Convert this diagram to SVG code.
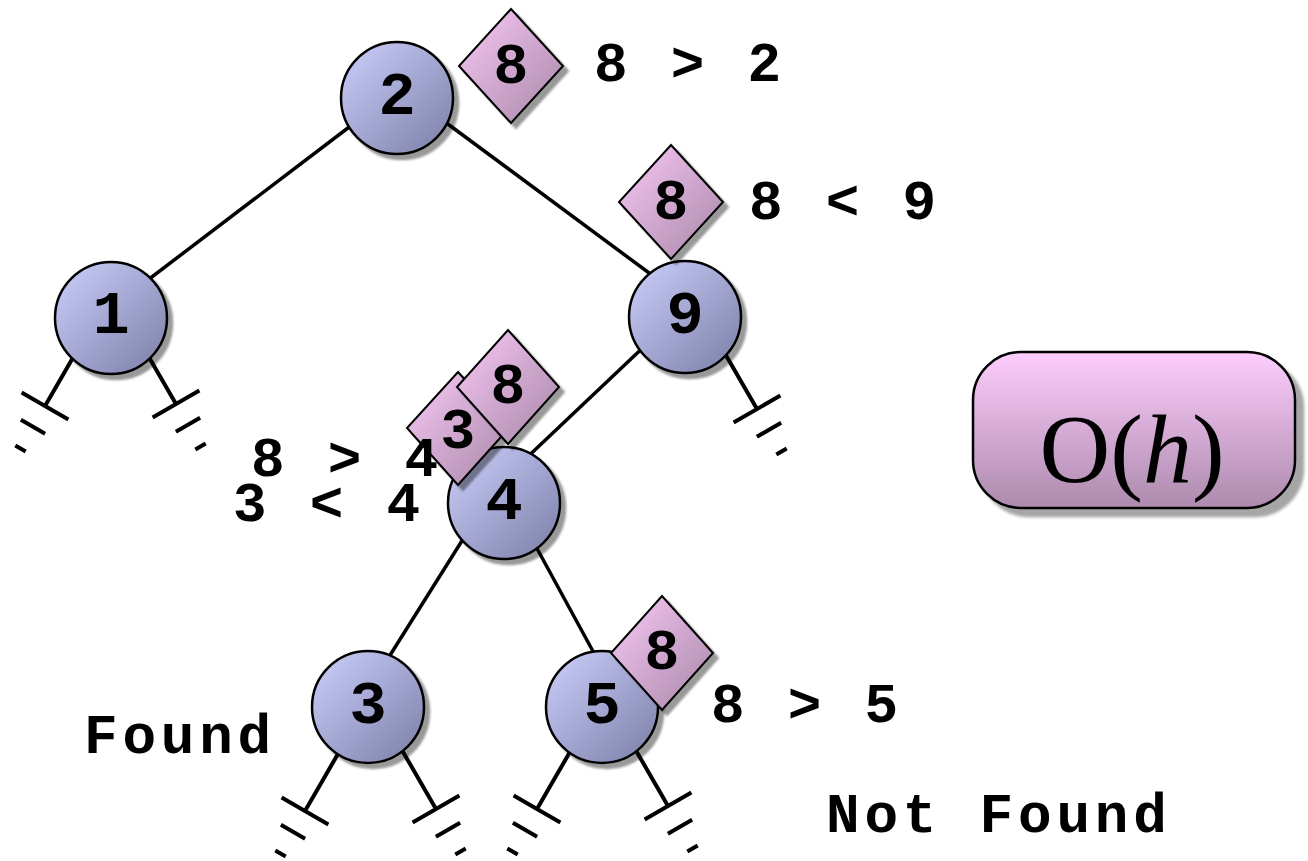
<svg xmlns="http://www.w3.org/2000/svg" xmlns:xlink="http://www.w3.org/1999/xlink" width="1308" height="861" viewBox="0 0 1308 861">
  <defs>
    <linearGradient id="nodeFill" x1="0" y1="0" x2="1" y2="1">
      <stop offset="0" stop-color="#cdd0fc"/>
      <stop offset="1" stop-color="#7a7ea6"/>
    </linearGradient>
    <linearGradient id="keyFill" x1="0" y1="0" x2="1" y2="1">
      <stop offset="0" stop-color="#f8caf6"/>
      <stop offset="1" stop-color="#a886a8"/>
    </linearGradient>
    <linearGradient id="boxFill" x1="0" y1="0" x2="0" y2="1">
      <stop offset="0" stop-color="#fdcdfd"/>
      <stop offset="1" stop-color="#ad8aad"/>
    </linearGradient>
    <filter id="shadow" x="-20%" y="-20%" width="150%" height="150%">
      <feDropShadow dx="5" dy="5" stdDeviation="1.2" flood-color="#000" flood-opacity="0.4"/>
    </filter>
    <filter id="shadowBig" x="-10%" y="-20%" width="130%" height="150%">
      <feDropShadow dx="8" dy="8" stdDeviation="1.5" flood-color="#000" flood-opacity="0.35"/>
    </filter>
    <!-- ground (null child) symbol: origin at the first bar, stub pointing up -->
    <g id="ground">
      <path d="M0,-72 V0 M-27,0 H27 M-14,24 H14 M-6,49 H6" fill="none" stroke="#000" stroke-width="4"/>
    </g>
  </defs>
  <style>
    .edge { stroke: #000; stroke-width: 3.5; fill: none; }
    .node circle { fill: url(#nodeFill); stroke: #000; stroke-width: 2.5; filter: url(#shadow); }
    .key polygon { fill: url(#keyFill); stroke: #000; stroke-width: 2; filter: url(#shadow); }
    .lbl { font-family: "Liberation Mono", "Courier New", monospace; font-weight: bold; fill: #000; }
    .nodeLbl { font-size: 62px; text-anchor: middle; }
    .keyLbl { font-size: 58px; text-anchor: middle; }
    .note { font-size: 56px; letter-spacing: 4.8px; }
  </style>

  <rect width="1308" height="861" fill="#fff"/>

  <!-- connectors -->
  <g id="edges">
    <line class="edge" x1="365" y1="115" x2="136" y2="289"/>
    <line class="edge" x1="437" y1="116" x2="664" y2="284"/>
    <line class="edge" x1="651" y1="340" x2="519" y2="465"/>
    <line class="edge" x1="470" y1="528" x2="382" y2="668"/>
    <line class="edge" x1="534" y1="543" x2="601" y2="666"/>
    <use xlink:href="#ground" transform="translate(45,406) rotate(30)"/>
    <use xlink:href="#ground" transform="translate(176,404) rotate(-30)"/>
    <use xlink:href="#ground" transform="translate(757,409) rotate(-30)"/>
    <use xlink:href="#ground" transform="translate(305,811) rotate(30)"/>
    <use xlink:href="#ground" transform="translate(436,809) rotate(-30)"/>
    <use xlink:href="#ground" transform="translate(537,809) rotate(30)"/>
    <use xlink:href="#ground" transform="translate(668,806) rotate(-30)"/>
  </g>

  <!-- tree nodes -->
  <g id="node-2" class="node"><circle cx="397" cy="98" r="56"/><text class="lbl nodeLbl" x="397" y="114">2</text></g>
  <g id="node-1" class="node"><circle cx="111" cy="318" r="56"/><text class="lbl nodeLbl" x="111" y="333">1</text></g>
  <g id="node-9" class="node"><circle cx="685" cy="317" r="56"/><text class="lbl nodeLbl" x="685" y="333">9</text></g>
  <g id="node-4" class="node"><circle cx="504" cy="503" r="56"/><text class="lbl nodeLbl" x="504" y="519">4</text></g>
  <g id="node-3" class="node"><circle cx="368" cy="707" r="56"/><text class="lbl nodeLbl" x="368" y="723">3</text></g>
  <g id="node-5" class="node"><circle cx="602" cy="707" r="56"/><text class="lbl nodeLbl" x="602" y="723">5</text></g>

  <!-- search keys -->
  <g id="key-8-root" class="key"><polygon points="511,9 563,66 511,123 459,66"/><text class="lbl keyLbl" x="511" y="83">8</text></g>
  <g id="key-8-at-9" class="key"><polygon points="671,145 723,202 671,259 619,202"/><text class="lbl keyLbl" x="671" y="219">8</text></g>
  <g id="key-3-at-4" class="key"><polygon points="458,372 509,428 458,485 407,428"/><text class="lbl keyLbl" x="458" y="448">3</text></g>
  <g id="key-8-at-4" class="key"><polygon points="508,330 559,387 508,444 457,387"/><text class="lbl keyLbl" x="508" y="403">8</text></g>
  <g id="key-8-at-5" class="key"><polygon points="662,596 713,653 662,710 611,653"/><text class="lbl keyLbl" x="662" y="669">8</text></g>

  <!-- comparison notes -->
  <g id="notes">
    <text class="lbl note" x="594" y="81">8 &gt; 2</text>
    <text class="lbl note" x="749" y="219">8 &lt; 9</text>
    <text class="lbl note" x="251" y="476">8 &gt; 4</text>
    <text class="lbl note" x="233" y="521">3 &lt; 4</text>
    <text class="lbl note" x="711" y="722">8 &gt; 5</text>
    <text class="lbl note" x="84" y="753">Found</text>
    <text class="lbl note" x="826" y="832">Not Found</text>
  </g>

  <!-- complexity badge -->
  <g id="complexity">
    <rect x="973" y="352" width="322" height="156" rx="48" ry="48" fill="url(#boxFill)" stroke="#000" stroke-width="2.5" filter="url(#shadowBig)"/>
    <text x="1132" y="482" text-anchor="middle" font-family="'Liberation Serif', 'Times New Roman', serif" font-size="98" fill="#000">O(<tspan font-style="italic">h</tspan>)</text>
  </g>
</svg>
